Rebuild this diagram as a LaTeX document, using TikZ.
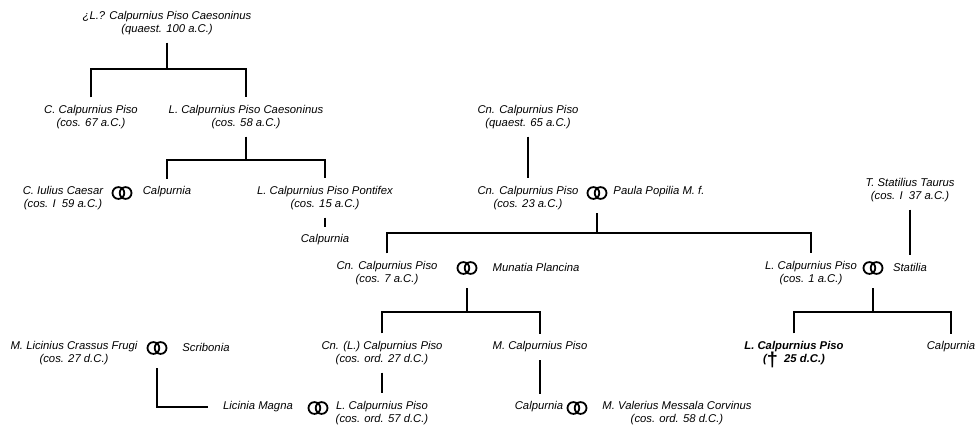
\documentclass[tikz,border=0pt]{standalone}
\usepackage{fontspec}
\setmainfont{Liberation Sans}
\usetikzlibrary{positioning}
\newcommand{\crux}{\smash{\raisebox{-4.5pt}{\fontsize{20}{20}\selectfont\upshape\bfseries †}}}

\begin{document}
\begin{tikzpicture}[
    x=1pt, y=-1pt,
    person/.style={font=\fontsize{11.3}{12.5}\selectfont\itshape, align=center,
                   inner sep=0pt, outer xsep=3pt, outer ysep=8pt},
    dead/.style={person, font=\fontsize{11.3}{12.5}\selectfont\itshape\bfseries},
    rings/.style={minimum width=26pt, minimum height=17pt, inner sep=0pt, outer ysep=11.5pt,
                  path picture={\draw[line width=1.8pt]
                    ([xshift=-3.6pt]path picture bounding box.center) circle (5.9pt)
                    ([xshift=3.6pt]path picture bounding box.center) circle (5.9pt);}},
    line/.style={line width=1.5pt}
]
\useasboundingbox (0,0) rectangle (976,428);
\node[person] (p0)    at (167, 23)  {¿L.? Calpurnius Piso Caesoninus\\(quaest. 100 a.C.)};
\node[person] (c1)    at (91, 117)  {C. Calpurnius Piso\\(cos. 67 a.C.)};
\node[person] (c2)    at (246, 117) {L. Calpurnius Piso Caesoninus\\(cos. 58 a.C.)};
\node[person] (n0)    at (528, 117) {Cn. Calpurnius Piso\\(quaest. 65 a.C.)};
\node[person] (caes)  at (63, 198)  {C. Iulius Caesar\\(cos. I\ \ 59 a.C.)};
\node[rings]  (r1)    at (122, 193) {};
\node[person] (cal1)  at (167, 192) {Calpurnia};
\node[person] (pont)  at (325, 198) {L. Calpurnius Piso Pontifex\\(cos. 15 a.C.)};
\node[person] (cal2)  at (325, 240) {Calpurnia};
\node[person] (n1)    at (528, 198) {Cn. Calpurnius Piso\\(cos. 23 a.C.)};
\node[rings]  (r2)    at (597, 193) {};
\node[person] (paula) at (659, 192) {Paula Popilia M. f.};
\node[person] (taur)  at (910, 190) {T. Statilius Taurus\\(cos. I\ \ 37 a.C.)};
\node[person] (n2)    at (387, 273) {Cn. Calpurnius Piso\\(cos. 7 a.C.)};
\node[rings]  (r3)    at (467, 268) {};
\node[person] (mun)   at (536, 267) {Munatia Plancina};
\node[person] (lp1)   at (811, 273) {L. Calpurnius Piso\\(cos. 1 a.C.)};
\node[rings]  (r4)    at (873, 268) {};
\node[person] (stat)  at (910, 267) {Statilia};
\node[person] (frugi) at (74, 353)  {M. Licinius Crassus Frugi\\(cos. 27 d.C.)};
\node[rings]  (r5)    at (157, 348) {};
\node[person] (scrib) at (206, 347) {Scribonia};
\node[person] (g1)    at (382, 353) {Cn. (L.) Calpurnius Piso\\(cos. ord. 27 d.C.)};
\node[person] (mcp)   at (540, 347) {M. Calpurnius Piso};
\node[dead]   (lp2)   at (794, 353) {L. Calpurnius Piso\\(\crux\ \ 25 d.C.)};
\node[person] (cal3)  at (951, 347) {Calpurnia};
\node[person] (lic)   at (258, 407) {Licinia Magna};
\node[rings]  (r6)    at (318, 408) {};
\node[person] (lp3)   at (382, 413) {L. Calpurnius Piso\\(cos. ord. 57 d.C.)};
\node[person] (cal4)  at (539, 407) {Calpurnia};
\node[rings]  (r7)    at (577, 408) {};
\node[person] (mess)  at (677, 413) {M. Valerius Messala Corvinus\\(cos. ord. 58 d.C.)};
\coordinate (f0) at (167, 69);
\coordinate (f1) at (246, 160);
\coordinate (f2) at (597, 233);
\coordinate (f3) at (467, 312);
\coordinate (f4) at (873, 312);
\draw[line] (p0) -- (f0); \draw[line] (c1) |- (f0) -| (c2);
\draw[line] (c2) -- (f1); \draw[line] (cal1) |- (f1) -| (pont);
\draw[line] (pont) -- (cal2);
\draw[line] (n0) -- (n1);
\draw[line] (r2) -- (f2); \draw[line] (n2) |- (f2) -| (lp1);
\draw[line] (r3) -- (f3); \draw[line] (g1) |- (f3) -| (mcp);
\draw[line] (g1) -- (lp3); \draw[line] (mcp) -- (mcp |- cal4.north);
\draw[line] (taur) -- (stat);
\draw[line] (r4) -- (f4); \draw[line] (lp2) |- (f4) -| (cal3);
\draw[line, shorten >=12pt] (r5) |- (lic);
\end{tikzpicture}
\end{document}
